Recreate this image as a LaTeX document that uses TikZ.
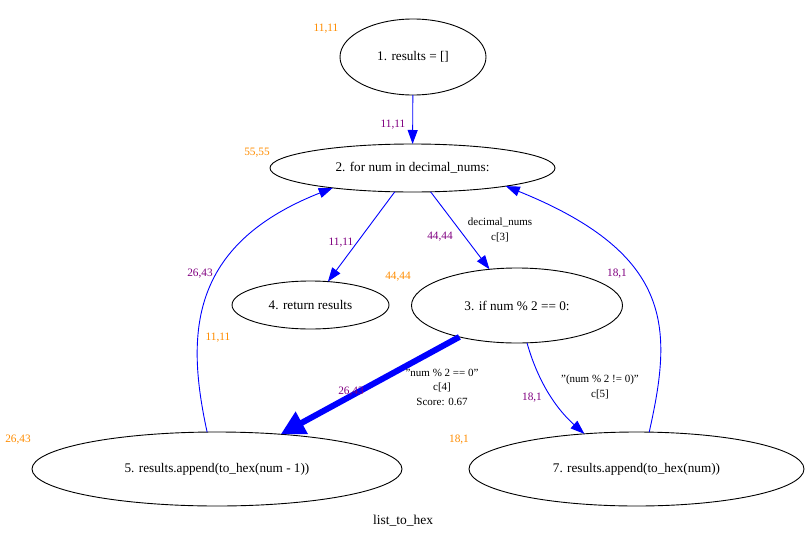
\documentclass[tikz,border=0pt]{standalone}
\usepackage{fontspec}
\setmainfont{Liberation Serif}
\usetikzlibrary{shapes.geometric,arrows.meta}

\definecolor{cntorange}{RGB}{255,140,0}
\definecolor{cntpurple}{RGB}{128,0,128}
\definecolor{flowblue}{RGB}{0,0,255}

% straight double quote
\newcommand{\dq}{\symbol{34}}

\tikzset{
  stmt/.style={ellipse, draw=black, line width=0.9pt, inner sep=0pt, outer sep=0pt,
    font=\fontsize{13.2}{15}\selectfont},
  flow/.style={draw=flowblue, line width=0.9pt, -{Triangle[length=14pt,width=10pt]}, fill=none},
  hotflow/.style={draw=flowblue, line width=6pt, -{Triangle[length=24pt,width=24pt]}},
  nodecount/.style={text=cntorange, font=\fontsize{11.3}{13}\selectfont, inner sep=0pt},
  edgecount/.style={text=cntpurple, font=\fontsize{11.3}{13}\selectfont, inner sep=0pt},
  cond/.style={text=black, align=center, font=\fontsize{11}{14.5}\selectfont, inner sep=0pt},
}

\begin{document}
\begin{tikzpicture}[x=1pt, y=-1pt]
  \useasboundingbox (0,0) rectangle (810,538);

  % statements of list_to_hex
  \node[stmt, minimum width=146pt, minimum height=76pt] (n1) at (413,57)    {1. results = []};
  \node[stmt, minimum width=285pt, minimum height=48pt] (n2) at (412.5,168) {2. for num in decimal\_nums:};
  \node[stmt, minimum width=157pt, minimum height=48pt] (n4) at (310.5,305) {4. return results};
  \node[stmt, minimum width=211pt, minimum height=75pt] (n3) at (517,305.5) {3. if num \% 2 == 0:};
  \node[stmt, minimum width=370pt, minimum height=74pt] (n5) at (217,469)   {5. results.append(to\_hex(num - 1))};
  \node[stmt, minimum width=335pt, minimum height=74pt] (n7) at (636.5,469) {7. results.append(to\_hex(num))};

  % control flow
  \draw[flow] (n1) -- (n2);
  \draw[flow] (n2) -- (n4);
  \draw[flow] (n2) -- (n3);
  \draw[hotflow] (n3) -- (n5);
  \draw[flow] (n3.285) .. controls (536,375) and (552,405) .. (n7.146.6);
  \draw[flow] (n5.105.5) .. controls (186,335) and (188,245) .. (n2.194);
  \draw[flow] (n7.71.6) .. controls (672,330) and (676,255) .. (n2.349.3);

  % statement counters
  \node[nodecount] (c1) at (326,29)  {11,11};
  \node[nodecount] (c2) at (257,153) {55,55};
  \node[nodecount] (c3) at (398,277) {44,44};
  \node[nodecount] (c4) at (218,338) {11,11};
  \node[nodecount] (c5) at (18,440)  {26,43};
  \node[nodecount] (c7) at (459,440) {18,1};

  % edge counters
  \node[edgecount] (e12) at (393,125) {11,11};
  \node[edgecount] (e24) at (341,243) {11,11};
  \node[edgecount] (e23) at (440,237) {44,44};
  \node[edgecount] (e52) at (200,274) {26,43};
  \node[edgecount] (e35) at (351,392) {26,43};
  \node[edgecount] (e37) at (532,398) {18,1};
  \node[edgecount] (e72) at (617,274) {18,1};

  % branch conditions
  \node[cond] (l23) at (500,230) {decimal\_nums\\c[3]};
  \node[cond] (l35) at (442,387) {\dq num \% 2 == 0\dq\\c[4]\\Score: 0.67};
  \node[cond] (l37) at (600,387) {\dq(num \% 2 != 0)\dq\\c[5]};

  % graph title
  \node[font=\fontsize{13.5}{15}\selectfont, inner sep=0pt] (title) at (403,521) {list\_to\_hex};
\end{tikzpicture}
\end{document}
